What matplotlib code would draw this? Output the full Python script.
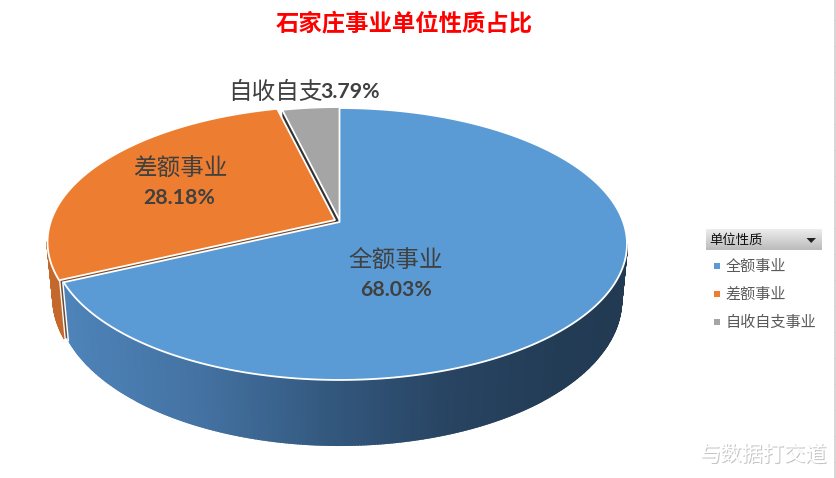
import numpy as np
from matplotlib import pyplot as plt
from matplotlib.patches import Polygon, Rectangle

plt.rcParams['font.family'] = ['Noto Sans CJK SC', 'DejaVu Sans']

title = "石家庄事业单位性质占比"
legend_title = "单位性质"
legend_names = ["全额事业", "差额事业", "自收自支事业"]
label_names = ["全额事业", "差额事业", "自收自支"]
shares = [68.03, 28.18, 3.79]
colors = ["#5b9bd5", "#ed7d31", "#a5a5a5"]
watermark = "与数据打交道"

# fake 3d: disc is projected with a bit of perspective, in pixel coords
cx, cy = 339.5, 222
A, B, k = 283.7, 132.4, 0.1618
depth = 54.5
low_scale = 0.98
offsets = [(0, 0), (-4.5, -2), (0.5, -1)]


def project(angle, h=0, off=(0, 0), r=1.0):
    a = np.radians(angle)
    u, v = r * np.sin(a), r * np.cos(a)
    w = 1 + k * v
    s = low_scale if h > 0 else 1.0
    return np.column_stack([cx + s * A * u / w + off[0], cy + (h - B * v) / w + off[1]])


def sector(start, end, off):
    angles = np.linspace(start, end, int(end - start) * 2 + 2)
    rim = project(angles, off=off)
    apex = project(np.array([0.0]), off=off, r=0)
    return np.vstack([apex, rim])


def cut_face(angle, off):
    a = np.array([angle])
    return np.vstack([project(a, off=off), project(a, off=off, r=0),
                      project(a, h=depth, off=off, r=0), project(a, h=depth, off=off)])


def wall(ax, start, end, off, color_at, z):
    angles = np.arange(start, end + 0.5, 0.5)
    top = project(angles, off=off)
    low = project(angles, h=depth, off=off)
    for i in range(len(angles) - 1):
        quad = [top[i], top[i + 1], low[i + 1], low[i]]
        c = color_at(top[i, 0])
        ax.add_patch(Polygon(quad, closed=True, fc=c, ec=c, lw=1.5, zorder=z))


def blue_wall_color(x):
    xs = [60, 200, 330, 450, 560, 630]
    r = np.interp(x, xs, [0x4e, 0x44, 0x33, 0x28, 0x23, 0x22])
    g = np.interp(x, xs, [0x84, 0x72, 0x58, 0x44, 0x3c, 0x3a])
    b = np.interp(x, xs, [0xba, 0xa2, 0x7e, 0x62, 0x56, 0x52])
    return (r / 255, g / 255, b / 255)


fig = plt.figure(figsize=(8.37, 4.78), dpi=100)
ax = fig.add_axes([0, 0, 1, 1])
ax.set_xlim(0, 837)
ax.set_ylim(478, 0)
ax.axis("off")

edges = np.cumsum([0] + shares) / sum(shares) * 360
# the wall only shows between the two outermost points of the rim
side = np.degrees(np.arccos(-k))

# side faces first, the tops cover whatever is behind
ax.add_patch(Polygon(cut_face(edges[2], offsets[2]), fc="#333333", ec="none", zorder=3))
wall(ax, edges[1], 360 - side, offsets[1], lambda x: "#c4682c", 2)
ax.add_patch(Polygon(cut_face(edges[1], offsets[1]), fc="#7a4a26", ec="none", zorder=3))
wall(ax, side, edges[1], offsets[0], blue_wall_color, 4)
corner = np.array([edges[1]])
orange_edge = np.vstack([project(corner, off=offsets[1]), project(corner, h=depth, off=offsets[1])])
ax.plot(orange_edge[:, 0] + 0.5, orange_edge[:, 1], color="white", lw=1, zorder=3.5)
blue_edge = np.vstack([project(corner), project(corner, h=depth)])
ax.plot(blue_edge[:, 0] - 0.8, blue_edge[:, 1], color="white", lw=1, zorder=4.5)
for i in [1, 2, 0]:
    ax.add_patch(Polygon(sector(edges[i], edges[i + 1], offsets[i]),
                         fc=colors[i], ec="white", lw=1.3, joinstyle="round", zorder=5))

ax.text(404, 23, title, color="#ff0000", fontsize=16.8, fontweight="bold", ha="center", va="center")

text_dark = "#404040"
pct = ["%.2f%%" % s for s in shares]
ax.text(396, 261, label_names[0], color=text_dark, fontsize=17, ha="center", va="center", zorder=6)
ax.text(396, 290, pct[0], color=text_dark, fontsize=15.3, fontweight="bold", family="Lato", ha="center", va="center", zorder=6)
ax.text(180, 169, label_names[1], color=text_dark, fontsize=17, ha="center", va="center", zorder=6)
ax.text(179, 198, pct[1], color=text_dark, fontsize=15.3, fontweight="bold", family="Lato", ha="center", va="center", zorder=6)
ax.text(228, 92, label_names[2], color=text_dark, fontsize=17, ha="left", va="center", zorder=6)
ax.text(320.5, 92, pct[2], color=text_dark, fontsize=15.3, fontweight="bold", family="Lato", ha="left", va="center", zorder=6)

# slicer style legend
grad = np.linspace(0, 1, 21).reshape(-1, 1)
ax.imshow(grad, extent=(706, 822, 250, 229), cmap=plt.cm.colors.LinearSegmentedColormap.from_list("h", ["#ececec", "#bcbcbc"]),
          aspect="auto", zorder=1)
ax.set_xlim(0, 837)
ax.set_ylim(478, 0)
ax.text(709, 240, legend_title, color="#111111", fontsize=9.6, ha="left", va="center")
ax.add_patch(Polygon([(806.5, 238), (816, 238), (811.2, 243)], fc="#222222", ec="none"))
for i, name in enumerate(legend_names):
    y = 266 + i * 28
    ax.add_patch(Rectangle((714, y - 3), 6, 6, fc=colors[i], ec="none"))
    ax.text(725.5, y + 0.5, name, color="#595959", fontsize=10.9, ha="left", va="center")

# ruler on right border of the screenshot
ax.plot([835, 835], [0, 478], color="#d0d0d0", lw=1.2)
for y in np.arange(20, 478, 26):
    ax.plot([835, 837], [y, y], color="#d0d0d0", lw=1)

ax.text(764.5, 455.5, watermark, color="#c4c4c4", fontsize=15.3, ha="center", va="center")
ax.text(764, 455, watermark, color="#ffffff", fontsize=15.3, ha="center", va="center")

fig.savefig("out.png", dpi=100)
